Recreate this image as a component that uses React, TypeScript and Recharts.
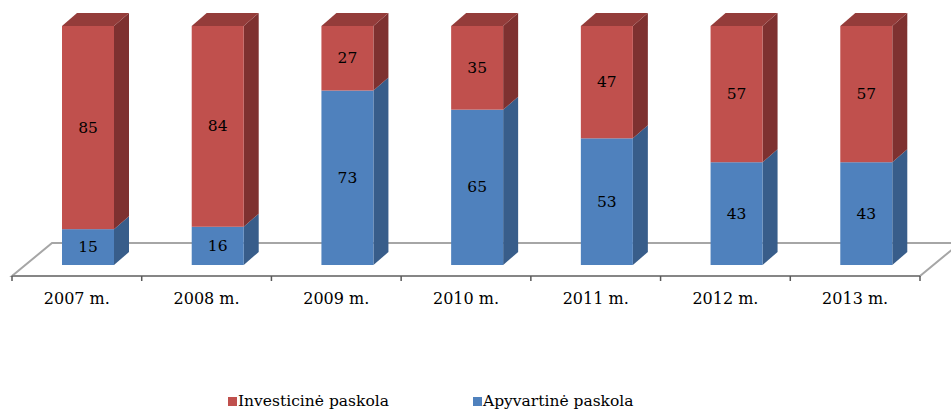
import { BarChart, Bar, XAxis, YAxis, LabelList, ReferenceArea } from "recharts";

const categories = ["2007 m.", "2008 m.", "2009 m.", "2010 m.", "2011 m.", "2012 m.", "2013 m."];
const apyvartine = [15, 16, 73, 65, 53, 43, 43];
const investicine = [85, 84, 27, 35, 47, 57, 57];

const seriesNames = { apyvartine: "Apyvartinė paskola", investicine: "Investicinė paskola" };

const data = categories.map((name, i) => ({
  name,
  apyvartine: apyvartine[i],
  investicine: investicine[i],
}));

const FONT = "'DejaVu Serif', serif";
const SHIFT = 11; // bars sit in the middle of the floor depth
const DX = 15;
const DY = 13;

const RED = { front: "#C0504D", side: "#7E3130", top: "#943C3A" };
const BLUE = { front: "#4F81BD", side: "#385D8A", top: "#3E6696" };

function makeBox(c: typeof RED, withTop: boolean) {
  return (props: any) => {
    const { x, y, width, height } = props;
    if (height == null || height <= 0) return <g />;
    const x0 = x + SHIFT;
    const x1 = x0 + width;
    return (
      <g>
        <path
          d={`M${x1},${y} L${x1 + DX},${y - DY} L${x1 + DX},${y + height - DY} L${x1},${y + height} Z`}
          fill={c.side}
        />
        {withTop && (
          <path
            d={`M${x0},${y} L${x0 + DX},${y - DY} L${x1 + DX},${y - DY} L${x1},${y} Z`}
            fill={c.top}
          />
        )}
        <rect x={x0} y={y} width={width} height={height} fill={c.front} />
      </g>
    );
  };
}

const renderLabel = (props: any) => {
  const { x, y, width, height, value } = props;
  return (
    <text
      x={x + SHIFT + width / 2}
      y={y + height / 2}
      textAnchor="middle"
      dominantBaseline="central"
      fontFamily={FONT}
      fontSize={15.5}
      fill="#000"
    >
      {value}
    </text>
  );
};

const Floor = (props: any) => {
  const { x, y, width, height } = props;
  const yb = y + height;
  return (
    <path
      d={`M${x},${yb} L${x + width},${yb} L${x + width + 40},${yb - 33} L${x + 40},${yb - 33} Z`}
      fill="#fff"
      stroke="#A6A6A6"
      strokeWidth={2}
    />
  );
};

const Tick = (props: any) => {
  const { x, y, payload, index } = props;
  const half = payload?.offset || 64.86;
  const ay = y - 8;
  return (
    <g>
      <line x1={x - half} y1={ay} x2={x - half} y2={ay + 5} stroke="#595959" strokeWidth={1.5} />
      {index === categories.length - 1 && (
        <line x1={x + half} y1={ay} x2={x + half} y2={ay + 5} stroke="#595959" strokeWidth={1.5} />
      )}
      <text x={x} y={ay + 22} textAnchor="middle" dominantBaseline="central" fontFamily={FONT} fontSize={16} fill="#000">
        {payload.value}
      </text>
    </g>
  );
};

export default function App() {
  return (
    <div style={{ position: "absolute", left: 0, top: 0, width: 951, height: 411, background: "#fff" }}>
      <BarChart
        width={951}
        height={411}
        data={data}
        margin={{ top: 26, right: 31, left: 12, bottom: 95 }}
        barSize={52}
      >
        <XAxis
          dataKey="name"
          axisLine={{ stroke: "#868686", strokeWidth: 2 }}
          tickLine={false}
          tick={<Tick />}
          height={40}
          interval={0}
        />
        <YAxis hide domain={[-4.6, 100]} />
        <ReferenceArea y1={-4.6} y2={0} shape={<Floor />} ifOverflow="visible" />
        <Bar
          dataKey="apyvartine"
          stackId="a"
          name={seriesNames.apyvartine}
          fill={BLUE.front}
          shape={makeBox(BLUE, false)}
          isAnimationActive={false}
        >
          <LabelList dataKey="apyvartine" content={renderLabel} />
        </Bar>
        <Bar
          dataKey="investicine"
          stackId="a"
          name={seriesNames.investicine}
          fill={RED.front}
          shape={makeBox(RED, true)}
          isAnimationActive={false}
        >
          <LabelList dataKey="investicine" content={renderLabel} />
        </Bar>
      </BarChart>
      <div
        style={{
          position: "absolute",
          top: 392,
          left: 228,
          display: "flex",
          fontFamily: FONT,
          fontSize: 15.5,
          color: "#000",
          whiteSpace: "nowrap",
        }}
      >
        {[
          { name: seriesNames.investicine, color: RED.front },
          { name: seriesNames.apyvartine, color: BLUE.front },
        ].map((item, i) => (
          <div key={item.name} style={{ display: "flex", alignItems: "center", marginLeft: i === 0 ? 0 : 84 }}>
            <span style={{ display: "inline-block", width: 9, height: 9, background: item.color, marginRight: 1 }} />
            <span>{item.name}</span>
          </div>
        ))}
      </div>
    </div>
  );
}
